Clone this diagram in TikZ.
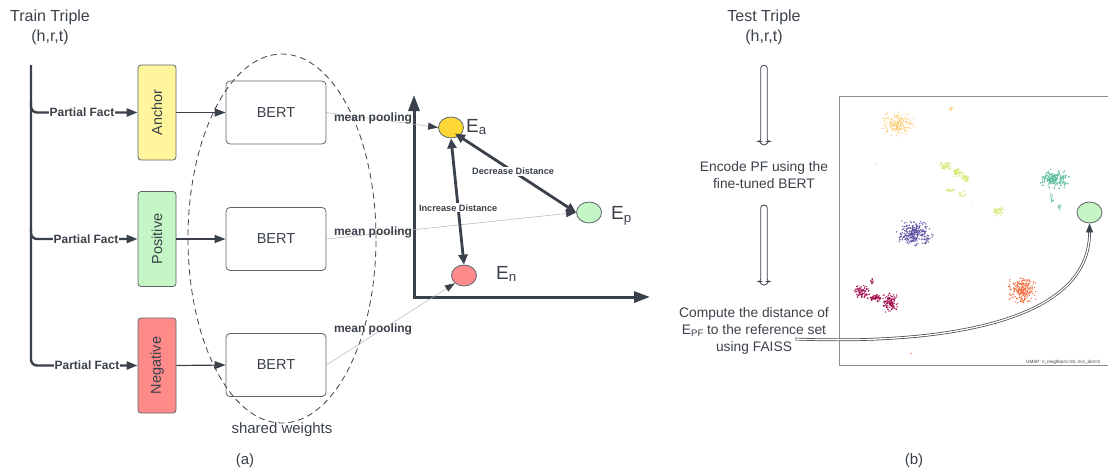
\documentclass[tikz,border=0pt]{standalone}
\usepackage{fontspec}
\setmainfont{Liberation Sans}
\usetikzlibrary{arrows.meta,shapes.geometric,calc}

\definecolor{ink}{HTML}{3B414A}
\definecolor{boxline}{HTML}{5E636A}
\definecolor{ancfill}{HTML}{FFF59D}
\definecolor{posfill}{HTML}{C5F6C5}
\definecolor{negfill}{HTML}{FF8A8A}
\definecolor{eafill}{HTML}{FDD835}
\definecolor{poolline}{HTML}{B4B4B4}
\definecolor{framegray}{HTML}{8C8C8C}
% cluster colours of the embedding plot
\definecolor{cA}{HTML}{FDCB70}
\definecolor{cB}{HTML}{D5E66E}
\definecolor{cC}{HTML}{4FB894}
\definecolor{cD}{HTML}{5A4AA0}
\definecolor{cE}{HTML}{A0084A}
\definecolor{cF}{HTML}{F46A3C}

% a cloud of n points around (cx,cy) with spreads sx, sy
\newcommand\dotcloud[6]{%
  \foreach \k in {1,...,#2}{%
    \fill[#1] ({#3+#5*(rand+rand)/2},{#4+#6*(rand+rand)/2}) circle (0.75);}}

\tikzset{
  title/.style={text=ink, align=center, font=\fontsize{16}{20}\selectfont},
  body/.style={text=ink, align=center, font=\fontsize{13.8}{17}\selectfont},
  tribox/.style={draw=boxline, line width=0.8pt, rounded corners=3pt,
                 minimum width=38pt, minimum height=95pt},
  tritext/.style={rotate=90, text=ink, font=\fontsize{14.5}{17}\selectfont},
  bert/.style={draw=boxline, line width=0.8pt, rounded corners=4pt, text=ink,
               minimum width=100pt, minimum height=63pt,
               font=\fontsize{14.5}{17}\selectfont},
  bracket/.style={draw=ink, line width=2.4pt, rounded corners=6pt,
                  -{Triangle[length=11pt,width=8pt]}},
  pf/.style={fill=white, text=ink, inner sep=1pt,
             font=\bfseries\fontsize{12}{14}\selectfont},
  feed/.style={draw=ink, line width=1.2pt, -{Triangle[length=11pt,width=8pt]}},
  mp/.style={text=ink, font=\bfseries\fontsize{12}{14}\selectfont},
  pool/.style={draw=poolline, line width=0.5pt,
               -{Triangle[length=10pt,width=7pt,color=ink]}},
  axis/.style={draw=ink, line width=3pt,
               {Triangle[length=16pt,width=11pt]}-{Triangle[length=16pt,width=11pt]}},
  emb/.style={ellipse, draw=boxline, line width=0.8pt,
              minimum width=25pt, minimum height=21pt, inner sep=0pt},
  elabel/.style={text=ink, anchor=west, inner sep=0pt,
                 font=\fontsize{19}{22}\selectfont},
  dist/.style={draw=ink, line width=2.8pt,
               {Triangle[length=10pt,width=9pt]}-{Triangle[length=10pt,width=9pt]}},
  dl/.style={fill=white, text=ink, inner sep=1pt,
             font=\bfseries\fontsize{9.2}{11}\selectfont},
  % outlined downward arrow: narrow shaft with a small head
  hollow/.style={draw=ink, line width=0.8pt, fill=white, rounded corners=2.5pt,
    to path={let \p1=(\tikztostart), \p2=(\tikztotarget) in
      (\x1-3.2pt,\y2+4.5pt) -- (\x1-3.2pt,\y1) -- (\x1+3.2pt,\y1)
      -- (\x1+3.2pt,\y2+4.5pt) -- (\x1+5.5pt,\y2+4.5pt) -- (\x1,\y2)
      -- (\x1-5.5pt,\y2+4.5pt) -- cycle}},
  curve/.style={draw=ink, line width=0.7pt, double=white, double distance=1.3pt,
                -{Triangle[length=9pt,width=7pt,fill=ink]}},
}

\begin{document}
\begin{tikzpicture}[x=1pt,y=-1pt]
\useasboundingbox (0,0) rectangle (1108,472);

%% ---------- (a) training with triplets ----------
\node[title] (train) at (50,27.5) {Train Triple\\(h,r,t)};

\node[tribox, fill=ancfill] (anc) at (157,112.5) {};
\node[tritext] at (anc) {Anchor};
\node[tribox, fill=posfill] (pos) at (157,239) {};
\node[tritext] at (pos) {Positive};
\node[tribox, fill=negfill] (neg) at (157,365.5) {};
\node[tritext] at (neg) {Negative};

\coordinate (top) at (31,65);
\draw[bracket] (top) |- (neg.west);
\draw[bracket] ($(top)+(0,36)$) |- (anc.west);
\draw[bracket] ($(top)+(0,162)$) |- (pos.west);
\node[pf] at (82,112.5) {Partial Fact};
\node[pf] at (86,239) {Partial Fact};
\node[pf] at (87,365.5) {Partial Fact};

\node[bert] (b1) at (276,112.5) {BERT};
\node[bert] (b2) at (276,239) {BERT};
\node[bert] (b3) at (276,365) {BERT};
\draw[feed] (anc.east) -- (b1.west);
\draw[feed] (pos.east) -- (b2.west);
\draw[feed] (neg.east) -- (b3.west);

\node[ellipse, draw=ink, line width=0.8pt, dash pattern=on 6pt off 4pt,
      minimum width=188pt, minimum height=369pt] (shared) at (282,238.5) {};
\node[text=ink, font=\fontsize{15}{18}\selectfont] at (282,430) {shared weights};
\node[text=ink, font=\fontsize{15}{18}\selectfont] at (245,461) {(a)};

% embedding space
\coordinate (origin) at (414,297);
\coordinate (yend) at (414,95);
\coordinate (xend) at (650,297);
\draw[axis] (yend) -- (origin) -- (xend);

\node[emb, fill=eafill] (ea) at (451,127.5) {};
\node[emb, fill=posfill] (ep) at (589,212.5) {};
\node[emb, fill=negfill] (en) at (464,275.5) {};
\node[elabel] at (466,127) {E\textsubscript{a}};
\node[elabel] at (611,216) {E\textsubscript{p}};
\node[elabel] at (496,274) {E\textsubscript{n}};

\draw[pool] (b1.east) -- (ea.west);
\draw[pool] (b2.east) -- (ep.west);
\draw[pool] (b3.east) -- (en.south west);
\node[mp] at (373,118) {mean pooling};
\node[mp] at (373,232) {mean pooling};
\node[mp] at (373,329) {mean pooling};

\draw[dist] (ea.south) -- node[dl, pos=0.55] {Increase Distance} (en.north);
\draw[dist] ($(ea.center)+(4,6)$) -- node[dl, pos=0.48] {Decrease Distance} (ep.west);

%% ---------- (b) inference ----------
\node[title] (test) at (764,27.5) {Test Triple\\(h,r,t)};
\node[body] (enc) at (764,175) {Encode PF using the\\fine-tuned BERT};
\node[body] (cmp) at (754,331)
  {Compute the distance of\\E\raisebox{-1.5pt}{\fontsize{9.5}{10}\selectfont PF} to the reference set\\using FAISS};
\draw[hollow] ([yshift=-17pt]test.south) to ([yshift=12pt]enc.north);
\draw[hollow] ([yshift=-13pt]enc.south) to ([yshift=18pt,xshift=10pt]cmp.north);

% UMAP plot of the reference set
\draw[draw=framegray, line width=1pt] (1110,96) -- (839,96) -- (839,365) -- (1110,365);
\begin{scope}[opacity=0.9]
\pgfmathsetseed{1234}
\dotcloud{cA}{170}{898}{124}{17}{12}
\dotcloud{cA}{10}{951}{109}{4}{1.5}
\dotcloud{cA}{1}{875}{163}{0.5}{0.5}
\dotcloud{cB}{45}{945}{166}{7}{4}
\dotcloud{cB}{50}{957}{172}{7}{5}
\dotcloud{cB}{35}{966}{178}{5}{4}
\dotcloud{cB}{16}{950}{190}{6}{2}
\dotcloud{cB}{14}{962}{194}{4}{3}
\dotcloud{cB}{40}{999}{211}{6}{5}
\dotcloud{cB}{1}{973}{203}{0.5}{0.5}
\dotcloud{cC}{180}{1055}{179}{15}{10}
\dotcloud{cC}{10}{1052}{198}{2}{6}
\dotcloud{cC}{8}{1060}{207}{3}{3}
\dotcloud{cD}{280}{915}{233}{19}{13}
\dotcloud{cE}{90}{862}{292}{9}{7}
\dotcloud{cE}{50}{876}{298}{6}{4}
\dotcloud{cE}{120}{890}{303}{8}{11}
\dotcloud{cE}{10}{872}{281}{2}{3}
\dotcloud{cF}{230}{1022}{290}{15}{14}
\dotcloud{cF}{1}{996}{324}{0.5}{0.5}
\dotcloud{cF}{1}{911}{353}{0.5}{0.5}
\end{scope}
\node[text=ink, anchor=west, inner sep=0pt, font=\fontsize{4.6}{5}\selectfont]
  at (1026,362) {UMAP: n\_neighbors=20, min\_dist=0};

\node[emb, fill=posfill] (query) at (1089.5,212.5) {};
\coordinate (from) at (795,339);
\draw[curve] (from) .. controls (950,345) and (1090,320) .. (query.south);

\node[text=ink, font=\fontsize{15}{18}\selectfont] at (914,461) {(b)};
\end{tikzpicture}
\end{document}
